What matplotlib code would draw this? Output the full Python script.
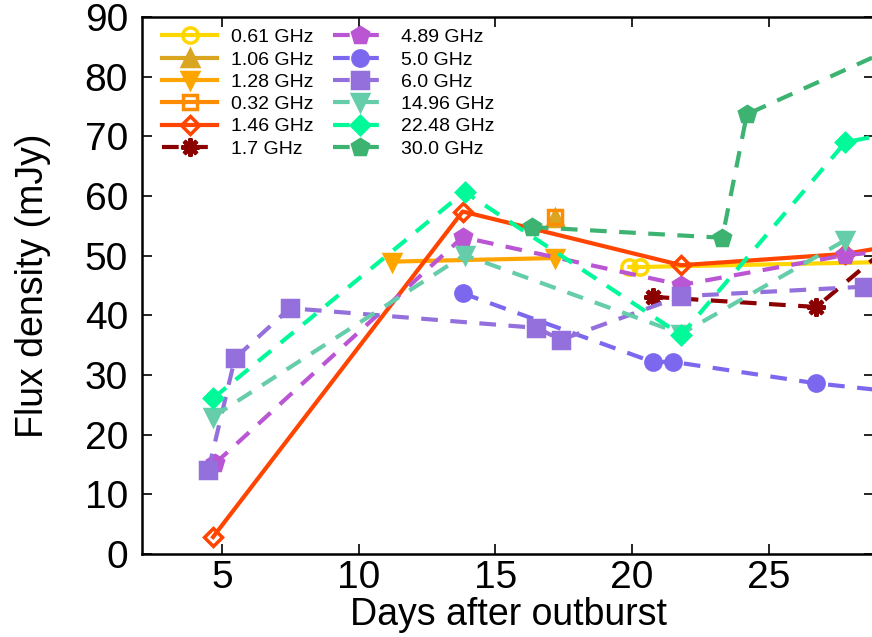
import matplotlib
matplotlib.use("Agg")
import matplotlib.pyplot as plt

# flux density (mJy) vs days after outburst, per observing frequency
days_061 = [19.9, 20.3, 30.0]
flux_061 = [48.1, 48.1, 49.0]
days_106 = [17.17]
flux_106 = [56.3]
days_128 = [11.2, 17.17]
flux_128 = [49.0, 49.6]
days_032 = [17.17]
flux_032 = [56.5]
days_146 = [4.67, 13.8, 21.8, 27.8, 30.0]
flux_146 = [2.85, 57.4, 48.4, 50.3, 52.0]
days_170 = [20.75, 26.74, 29.5]
flux_170 = [43.1, 41.4, 52.0]
days_489 = [4.75, 13.8, 21.8, 27.8, 30.0]
flux_489 = [15.2, 53.1, 45.1, 50.1, 51.0]
days_500 = [13.8, 20.75, 21.5, 26.74, 30.0]
flux_500 = [43.7, 32.2, 32.2, 28.6, 27.0]
days_600 = [4.5, 5.47, 7.48, 16.5, 17.4, 21.8, 28.5]
flux_600 = [14.1, 32.8, 41.2, 37.9, 35.9, 43.2, 44.8]
days_1496 = [4.67, 13.87, 21.8, 27.8]
flux_1496 = [23.0, 50.1, 36.9, 52.6]
days_2248 = [4.67, 13.87, 21.8, 27.8, 30.0]
flux_2248 = [26.1, 60.7, 36.7, 69.0, 71.0]
days_3000 = [16.33, 23.3, 24.2, 30.0]
flux_3000 = [54.8, 53.0, 73.7, 85.7]

plt.rcParams.update({
    "font.family": "Liberation Sans",
    "xtick.direction": "in", "ytick.direction": "in",
    "xtick.top": True, "ytick.right": True,
})

fig = plt.figure(figsize=(8.72, 6.37), dpi=100)
ax = fig.add_axes([142 / 872, 83 / 637, 732 / 872, 537 / 637])

SOLID = dict(lw=3, ls="-")
DASH = dict(lw=3, ls=(0, (4, 3)))

series = [
    (days_061, flux_061, "0.61 GHz", "#FFD700", "o", 11, False, SOLID),
    (days_106, flux_106, "1.06 GHz", "#DAA520", "^", 11, True, SOLID),
    (days_128, flux_128, "1.28 GHz", "#FFA500", "v", 11, True, SOLID),
    (days_032, flux_032, "0.32 GHz", "#FF8C00", "s", 10, False, SOLID),
    (days_146, flux_146, "1.46 GHz", "#FF4500", "D", 9, False, SOLID),
    (days_170, flux_170, "1.7 GHz", "#8B0000", (8, 2, 0), 13, True, DASH),
    (days_489, flux_489, "4.89 GHz", "#BA55D3", "p", 12, True, DASH),
    (days_500, flux_500, "5.0 GHz", "#7B68EE", "o", 11, True, DASH),
    (days_600, flux_600, "6.0 GHz", "#9370DB", "s", 11, True, DASH),
    (days_1496, flux_1496, "14.96 GHz", "#66CDAA", "v", 11, True, DASH),
    (days_2248, flux_2248, "22.48 GHz", "#00FA9A", "D", 9, True, DASH),
    (days_3000, flux_3000, "30.0 GHz", "#3CB371", "p", 12, True, DASH),
]

for d, f, lab, col, mk, ms, filled, style in series:
    ax.plot(d, f, color=col, marker=mk, ms=ms, label=lab,
            mfc=col if filled else "none", mec=col,
            mew=3.0 if mk == (8, 2, 0) else 2.5, **style)

ax.set_xlim(2.07, 28.85)
ax.set_ylim(0, 90)
ax.set_xticks([5, 10, 15, 20, 25])
ax.set_yticks(range(0, 91, 10))
ax.tick_params(axis="both", length=7, width=1.2, labelsize=28)
ax.tick_params(axis="y", pad=10)
ax.tick_params(axis="x", pad=4)
for s in ax.spines.values():
    s.set_linewidth(1.8)

ax.set_xlabel("Days after outburst", fontsize=27, labelpad=1)
ax.set_ylabel("Flux density (mJy)", fontsize=27, labelpad=24)

ax.legend(ncol=2, loc="upper left", frameon=False, fontsize=14,
          handlelength=2.8, handletextpad=0.7, columnspacing=1.0,
          labelspacing=0.24, borderaxespad=0.2, bbox_to_anchor=(0.012, 1.0))

fig.savefig("out.png", dpi=100)
